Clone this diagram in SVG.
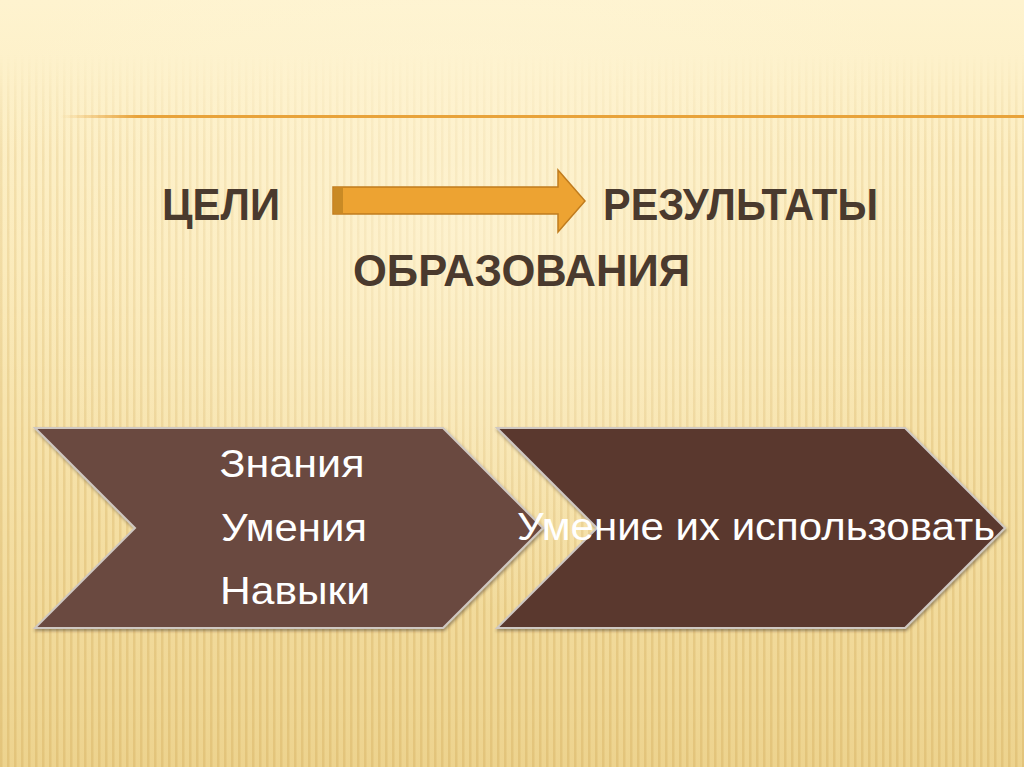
<svg xmlns="http://www.w3.org/2000/svg" width="1024" height="767" viewBox="0 0 1024 767">
<defs>
<linearGradient id="bg" x1="0" y1="0" x2="0" y2="1">
<stop offset="0" stop-color="#FEF3CF"/>
<stop offset="0.35" stop-color="#FBEAB9"/>
<stop offset="0.7" stop-color="#F4DEA2"/>
<stop offset="1" stop-color="#EDD38E"/>
</linearGradient>
<radialGradient id="glow" cx="0.45" cy="0.3" r="0.5">
<stop offset="0" stop-color="#FFF6DA" stop-opacity="0.6"/>
<stop offset="1" stop-color="#FFF6DA" stop-opacity="0"/>
</radialGradient>
<pattern id="stripes" width="7" height="20" patternUnits="userSpaceOnUse">
<rect x="0" y="0" width="2.5" height="20" fill="#D4AE5E"/>
</pattern>
<linearGradient id="stripefade" x1="0" y1="0" x2="0" y2="1">
<stop offset="0" stop-color="#fff" stop-opacity="0"/>
<stop offset="0.07" stop-color="#fff" stop-opacity="0"/>
<stop offset="0.2" stop-color="#fff" stop-opacity="0.6"/>
<stop offset="1" stop-color="#fff" stop-opacity="1"/>
</linearGradient>
<mask id="sm"><rect width="1024" height="767" fill="url(#stripefade)"/></mask>
<linearGradient id="rule" gradientUnits="userSpaceOnUse" x1="60" y1="0" x2="1024" y2="0">
<stop offset="0" stop-color="#E8A33A" stop-opacity="0"/>
<stop offset="0.08" stop-color="#E8A33A" stop-opacity="1"/>
<stop offset="1" stop-color="#E8A33A"/>
</linearGradient>
<filter id="sh" x="-5%" y="-5%" width="110%" height="115%">
<feDropShadow dx="1" dy="2" stdDeviation="1.5" flood-color="#3A2A20" flood-opacity="0.45"/>
</filter>
<style>
.head{font-family:"Liberation Sans",Arial,sans-serif;font-weight:bold;font-size:44px;fill:#4A3A2E}
.body{font-family:"Liberation Sans",Arial,sans-serif;font-size:39px;fill:#FFFFFF}
.chev{stroke:#CFC8C2;stroke-width:2;stroke-linejoin:miter;filter:url(#sh)}
</style>
</defs>
<rect width="1024" height="767" fill="url(#bg)"/>
<rect width="1024" height="767" fill="url(#stripes)" mask="url(#sm)" opacity="0.4"/>
<rect width="1024" height="767" fill="url(#glow)"/>
<rect x="60" y="115" width="964" height="3" fill="url(#rule)"/>

<g id="title">
<text class="head" x="162" y="220" textLength="118" lengthAdjust="spacingAndGlyphs">ЦЕЛИ</text>
<text class="head" x="603" y="220" textLength="275" lengthAdjust="spacingAndGlyphs">РЕЗУЛЬТАТЫ</text>
<text class="head" x="353" y="286" textLength="337" lengthAdjust="spacingAndGlyphs">ОБРАЗОВАНИЯ</text>
</g>

<g id="connectors">
<g id="arrow">
<path d="M333,187 H558 V170 L585,201 L558,232 V214 H333 Z" fill="#EDA332" stroke="#C07C1E" stroke-width="1.5"/>
<rect x="334" y="188" width="9" height="25" fill="#C98A25"/>
</g>
</g>

<g id="node-left">
<polygon class="chev" points="35,428 443,428 543,528 443,628 35,628 135,528" fill="#6B4A3F"/>
<text class="body" x="292" y="477" text-anchor="middle" textLength="145" lengthAdjust="spacingAndGlyphs">Знания</text>
<text class="body" x="294" y="541" text-anchor="middle" textLength="146" lengthAdjust="spacingAndGlyphs">Умения</text>
<text class="body" x="295" y="604" text-anchor="middle" textLength="150" lengthAdjust="spacingAndGlyphs">Навыки</text>
</g>

<g id="node-right">
<polygon class="chev" points="497,428 905,428 1005,528 905,628 497,628 597,528" fill="#5A382F"/>
<text class="body" x="517" y="540" textLength="478" lengthAdjust="spacingAndGlyphs">Умение их использовать</text>
</g>
</svg>
